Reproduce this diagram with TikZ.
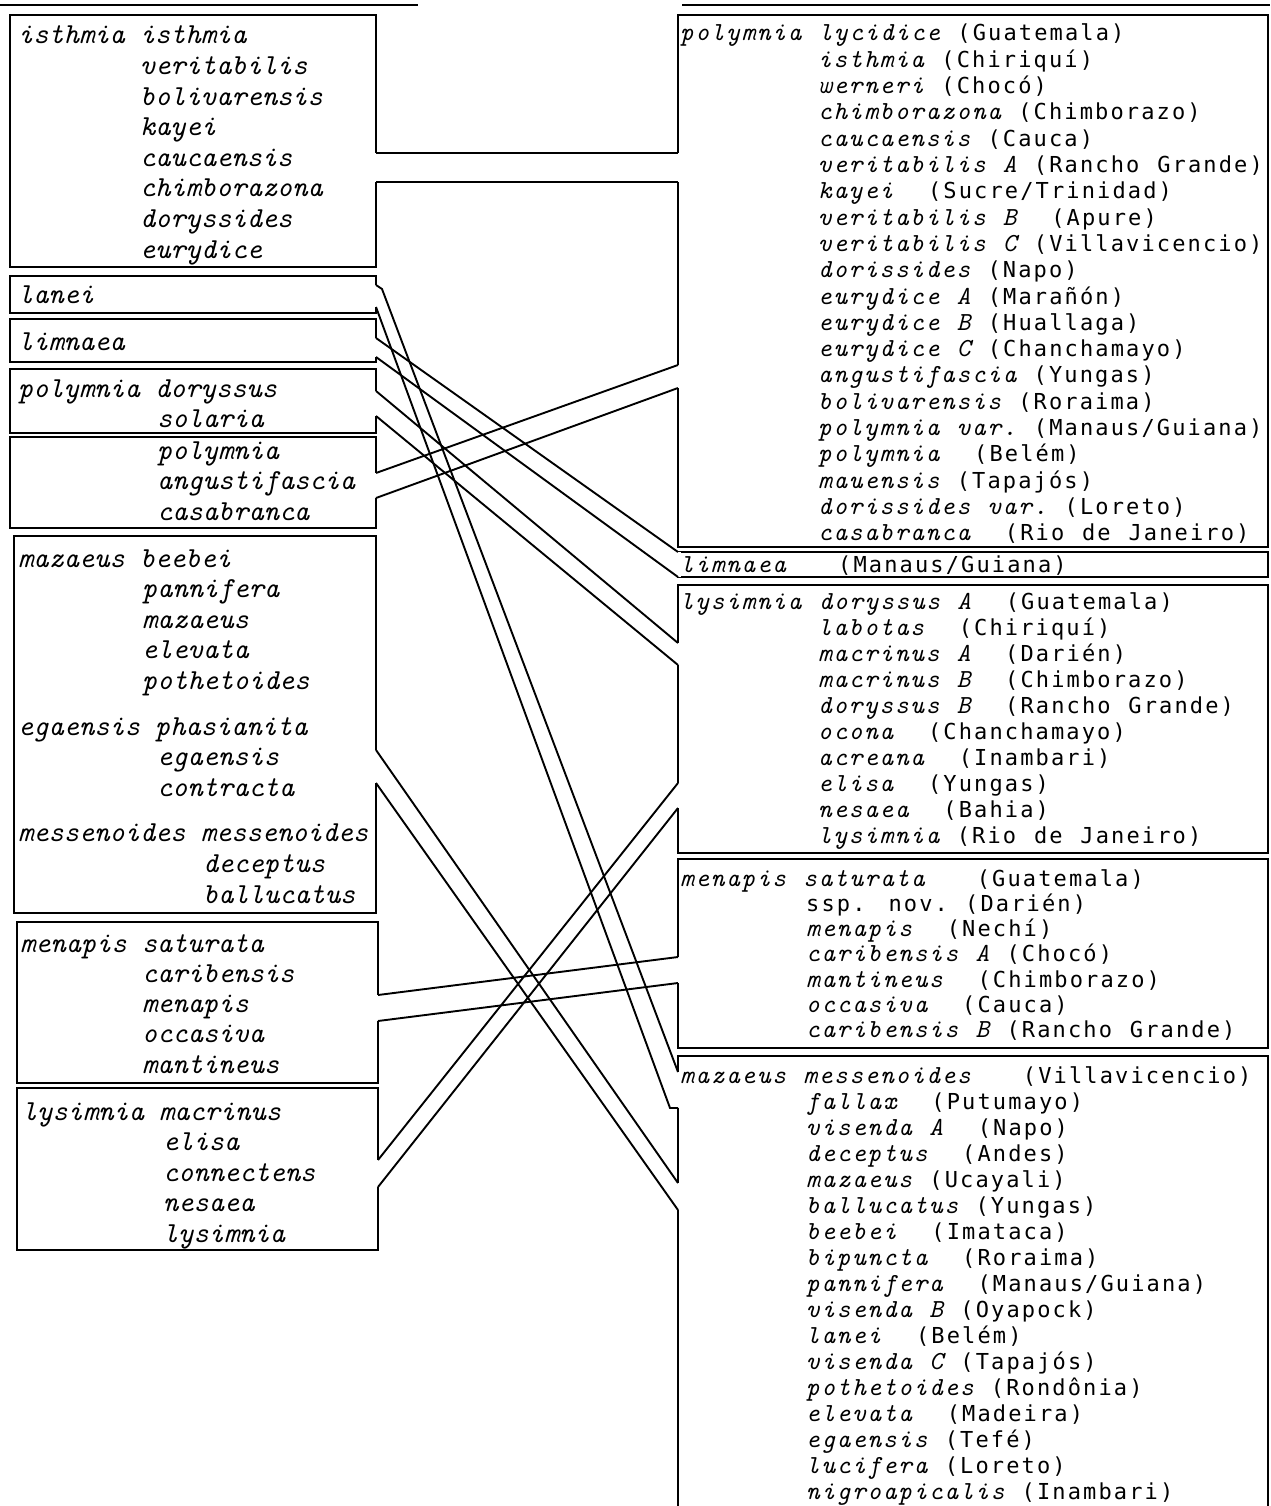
\documentclass[tikz,border=0pt]{standalone}
\usepackage{fontspec}
\newfontfamily\rnamefont{lmmono10-italic.otf}[LetterSpace=6.65, WordSpace=1.127]
\newfontfamily\locfont{DejaVu Sans Mono}[Scale=0.846, LetterSpace=9.7, WordSpace=1.16]
\newcommand{\lc}[1]{{\locfont\upshape #1}}

\begin{document}
\begin{tikzpicture}[x=1pt, y=-1pt,
            box/.style={draw, line width=1.9pt, anchor=north west, inner sep=0pt, outer sep=0pt},
            gap/.style={draw=white, line width=5pt},
            band/.style={line width=1.9pt},
            rule/.style={line width=1.9pt},
            lefttxt/.style={anchor=base west, inner sep=0pt, font=\fontsize{29}{30}\selectfont\ttfamily\itshape},
            righttxt/.style={anchor=base west, inner sep=0pt, font=\fontsize{26}{26}\selectfont\rnamefont}]
\useasboundingbox (0,0) rectangle (1270,1506);
\fill[white] (0,0) rectangle (1270,1506);
\clip (0,0) rectangle (1270,1506);

\draw[rule] (0,5) -- (418,5);
\draw[rule] (682,5) -- (1270,5);

\node[box, minimum width=366pt, minimum height=252pt] (isthL) at (10,15) {};
\node[box, minimum width=366pt, minimum height=37pt] (laneL) at (10,276) {};
\node[box, minimum width=366pt, minimum height=43pt] (limnL) at (10,319) {};
\node[box, minimum width=366pt, minimum height=64pt] (polyL) at (10,369) {};
\node[box, minimum width=366pt, minimum height=91pt] (angL) at (10,437) {};
\node[box, minimum width=362pt, minimum height=377pt] (mazL) at (14,536) {};
\node[box, minimum width=361pt, minimum height=161pt] (menL) at (17,922) {};
\node[box, minimum width=361pt, minimum height=162pt] (lysL) at (17,1088) {};

\node[box, minimum width=590pt, minimum height=532pt] (polyR) at (678,15) {};
\node[box, minimum width=590pt, minimum height=25pt] (limnR) at (678,552) {};
\node[box, minimum width=590pt, minimum height=268pt] (lysR) at (678,585) {};
\node[box, minimum width=590pt, minimum height=189pt] (menR) at (678,859) {};
\node[box, minimum width=590pt, minimum height=500pt] (mazR) at (678,1056) {};

\coordinate (isthA) at (isthL.east |- 0,153);
\coordinate (isthB) at (isthL.east |- 0,182);
\coordinate (laneA) at (laneL.east |- 0,285);
\coordinate (laneB) at (laneL.east |- 0,307);
\coordinate (limnA) at (limnL.east |- 0,338);
\coordinate (limnB) at (limnL.east |- 0,357);
\coordinate (polyA) at (polyL.east |- 0,391);
\coordinate (polyB) at (polyL.east |- 0,416);
\coordinate (angA) at (angL.east |- 0,473);
\coordinate (angB) at (angL.east |- 0,498);
\coordinate (mazA) at (mazL.east |- 0,750);
\coordinate (mazB) at (mazL.east |- 0,783);
\coordinate (menA) at (menL.east |- 0,995);
\coordinate (menB) at (menL.east |- 0,1021);
\coordinate (lysA) at (lysL.east |- 0,1160);
\coordinate (lysB) at (lysL.east |- 0,1187);

\coordinate (polyRA) at (polyR.west |- 0,153);
\coordinate (polyRB) at (polyR.west |- 0,182);
\coordinate (polyRC) at (polyR.west |- 0,365);
\coordinate (polyRD) at (polyR.west |- 0,388);
\coordinate (lysRA) at (lysR.west |- 0,643);
\coordinate (lysRB) at (lysR.west |- 0,665);
\coordinate (lysRC) at (lysR.west |- 0,783);
\coordinate (lysRD) at (lysR.west |- 0,808);
\coordinate (menRA) at (menR.west |- 0,957);
\coordinate (menRB) at (menR.west |- 0,983);
\coordinate (mazRA) at (mazR.west |- 0,1072);
\coordinate (mazRB) at (mazR.west |- 0,1108);
\coordinate (mazRC) at (mazR.west |- 0,1183);
\coordinate (mazRD) at (mazR.west |- 0,1210);

\foreach \a/\b in {isthA/isthB, laneA/laneB, limnA/limnB, polyA/polyB, angA/angB, mazA/mazB, menA/menB, lysA/lysB,
                   polyRA/polyRB, polyRC/polyRD, lysRA/lysRB, lysRC/lysRD, menRA/menRB, mazRA/mazRB, mazRC/mazRD,
                   limnR.north west/limnR.south west}
  \draw[gap] (\a) -- (\b);

\foreach \a/\b in {isthA/polyRA, isthB/polyRB, limnA/limnR.north west, limnB/limnR.south west,
                   polyA/lysRA, polyB/lysRB, angA/polyRC, angB/polyRD, mazA/mazRC, mazB/mazRD,
                   menA/menRA, menB/menRB, lysA/lysRC, lysB/lysRD}
  \draw[band] (\a) -- (\b);
\draw[band] (laneA) -- ++(6,4) -- (mazRA);
\draw[band] (laneB) -- ([xshift=-8pt]mazRB) -- (mazRB);

\node[lefttxt] (isth-0) at (18,44) {isthmia isthmia};
\foreach \row [count=\i] in {veritabilis, bolivarensis, kayei, caucaensis, chimborazona, doryssides, eurydice}
  \node[lefttxt] (isth-\i) at (140,{44+30.6*\i}) {\row};
\node[lefttxt] (lane-0) at (18,303) {lanei};
\node[lefttxt] (limn-0) at (18,350) {limnaea};
\node[lefttxt] (poly-0) at (18,397) {polymnia doryssus};
\node[lefttxt] (poly-1) at (157,427) {solaria};
\foreach \row [count=\i from 0] in {polymnia, angustifascia, casabranca}
  \node[lefttxt] (ang-\i) at (157,{459+30.6*\i}) {\row};
\node[lefttxt] (maz-0) at (18,567) {mazaeus beebei};
\foreach \row [count=\i] in {pannifera, mazaeus, elevata, pothetoides}
  \node[lefttxt] (maz-\i) at (142,{567+30.6*\i}) {\row};
\node[lefttxt] (ega-0) at (18,735) {egaensis phasianita};
\foreach \row [count=\i] in {egaensis, contracta}
  \node[lefttxt] (ega-\i) at (157,{735+30.8*\i}) {\row};
\node[lefttxt] (mes-0) at (18,841) {messenoides messenoides};
\foreach \row [count=\i] in {deceptus, ballucatus}
  \node[lefttxt] (mes-\i) at (203,{841+31*\i}) {\row};
\node[lefttxt] (men-0) at (20,952) {menapis saturata};
\foreach \row [count=\i] in {caribensis, menapis, occasiva, mantineus}
  \node[lefttxt] (men-\i) at (142,{952+30.3*\i}) {\row};
\node[lefttxt] (lys-0) at (22,1120) {lysimnia macrinus};
\foreach \row [count=\i] in {elisa, connectens, nesaea, lysimnia}
  \node[lefttxt] (lys-\i) at (163,{1120+30.6*\i}) {\row};

\node[righttxt] (polyr-0) at (680,41) {polymnia lycidice~\lc{(Guatemala)}};
\foreach \row [count=\i] in {{isthmia~\lc{(Chiriquí)}}, {werneri~\lc{(Chocó)}}, {chimborazona~\lc{(Chimborazo)}},
    {caucaensis~\lc{(Cauca)}}, {veritabilis A~\lc{(Rancho Grande)}}, {kayei~~\lc{(Sucre/Trinidad)}},
    {veritabilis B~~\lc{(Apure)}}, {veritabilis C~\lc{(Villavicencio)}}, {dorissides~\lc{(Napo)}},
    {eurydice A~\lc{(Marañón)}}, {eurydice B~\lc{(Huallaga)}}, {eurydice C~\lc{(Chanchamayo)}},
    {angustifascia~\lc{(Yungas)}}, {bolivarensis~\lc{(Roraima)}}, {polymnia var.~\lc{(Manaus/Guiana)}},
    {polymnia~~\lc{(Belém)}}, {mauensis~\lc{(Tapajós)}}, {dorissides var.~\lc{(Loreto)}},
    {casabranca~~\lc{(Rio de Janeiro)}}}
  \node[righttxt] (polyr-\i) at (818,{41+26.3*\i}) {\row};
\node[righttxt] (limnr-0) at (680,572) {limnaea~~~\lc{(Manaus/Guiana)}};
\node[righttxt] (lysr-0) at (680,609) {lysimnia doryssus A~~\lc{(Guatemala)}};
\foreach \row [count=\i] in {{labotas~~\lc{(Chiriquí)}}, {macrinus A~~\lc{(Darién)}}, {macrinus B~~\lc{(Chimborazo)}},
    {doryssus B~~\lc{(Rancho Grande)}}, {ocona~~\lc{(Chanchamayo)}}, {acreana~~\lc{(Inambari)}},
    {elisa~~\lc{(Yungas)}}, {nesaea~~\lc{(Bahia)}}, {lysimnia~\lc{(Rio de Janeiro)}}}
  \node[righttxt] (lysr-\i) at (818,{609+26.1*\i}) {\row};
\node[righttxt] (menr-0) at (680,886) {menapis saturata~~~\lc{(Guatemala)}};
\foreach \row [count=\i] in {{\lc{ssp. nov.}~\lc{(Darién)}}, {menapis~~\lc{(Nechí)}}, {caribensis A~\lc{(Chocó)}},
    {mantineus~~\lc{(Chimborazo)}}, {occasiva~~\lc{(Cauca)}}, {caribensis B~\lc{(Rancho Grande)}}}
  \node[righttxt] (menr-\i) at (806,{886+25.3*\i}) {\row};
\node[righttxt] (mazr-0) at (680,1083) {mazaeus messenoides~~~\lc{(Villavicencio)}};
\foreach \row [count=\i] in {{fallax~~\lc{(Putumayo)}}, {visenda A~~\lc{(Napo)}}, {deceptus~~\lc{(Andes)}},
    {mazaeus~\lc{(Ucayali)}}, {ballucatus~\lc{(Yungas)}}, {beebei~~\lc{(Imataca)}}, {bipuncta~~\lc{(Roraima)}},
    {pannifera~~\lc{(Manaus/Guiana)}}, {visenda B~\lc{(Oyapock)}}, {lanei~~\lc{(Belém)}},
    {visenda C~\lc{(Tapajós)}}, {pothetoides~\lc{(Rondônia)}}, {elevata~~\lc{(Madeira)}},
    {egaensis~\lc{(Tefé)}}, {lucifera~\lc{(Loreto)}}, {nigroapicalis~\lc{(Inambari)}}}
  \node[righttxt] (mazr-\i) at (806,{1083+26*\i}) {\row};
\end{tikzpicture}
\end{document}
